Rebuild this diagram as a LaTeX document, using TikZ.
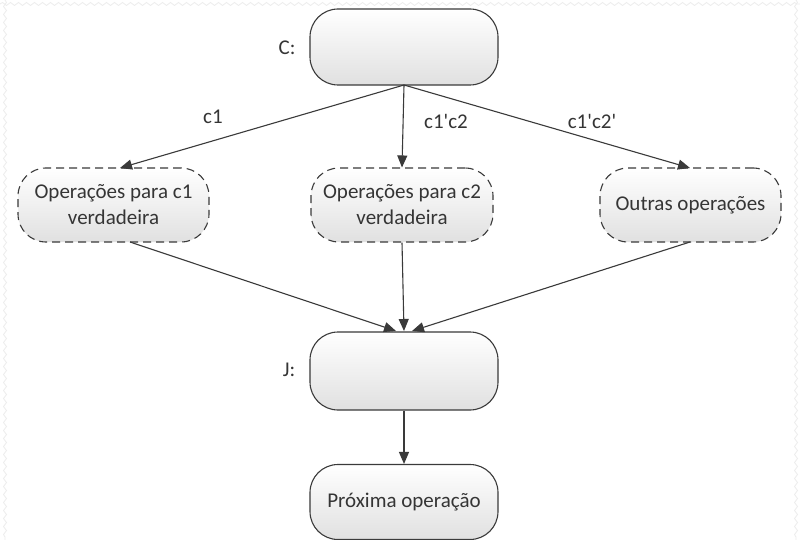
\documentclass[tikz,border=0pt]{standalone}
\usepackage{fontspec}
\setmainfont{Carlito}
\usetikzlibrary{arrows.meta,decorations.pathmorphing}
\definecolor{lc}{HTML}{3A3A3A}
\definecolor{tc}{HTML}{353535}
\begin{document}
\begin{tikzpicture}[x=1pt,y=-1pt,
  base/.style={rounded corners=28pt, draw=lc, line width=1.1pt,
    top color=white, bottom color=black!12, minimum height=76pt,
    align=center, text=tc, font=\fontsize{21}{26}\selectfont, inner sep=2pt},
  solidbox/.style={base, minimum width=188pt},
  dashbox/.style={base, dash pattern=on 8pt off 5pt, minimum height=74pt},
  conn/.style={draw=lc, line width=1.1pt, -{Triangle[length=12pt,width=10pt]}},
  lbl/.style={text=tc, font=\fontsize{21}{26}\selectfont},
  wave/.style={draw=black!7, line width=0.8pt, decorate,
    decoration={snake, amplitude=1.5pt, segment length=8pt}}]
\useasboundingbox (0,0) rectangle (800,540);
\fill[white] (0,0) rectangle (800,540);
\draw[wave] (0,4) -- (800,4);
\draw[wave] (5,0) -- (5,540);
\draw[wave] (796,0) -- (796,540);

\node[solidbox] (C) at (404,47) {};
\node[lbl] (Cl) at (287,48) {C:};
\node[dashbox, minimum width=191pt] (A) at (113.5,205) {Operações para c1\\verdadeira};
\node[dashbox, minimum width=182pt] (B) at (402,205) {Operações para c2\\verdadeira};
\node[dashbox, minimum width=181pt] (D) at (690.5,205) {Outras operações};
\node[solidbox, minimum height=78pt] (J) at (404,371) {};
\node[lbl] (Jl) at (289,370) {J:};
\node[solidbox, minimum height=75pt] (P) at (404,502) {Próxima operação};

\coordinate (Cb) at (404,85);
\coordinate (At) at (120,168);
\coordinate (Dt) at (690,168);
\coordinate (Ab) at (130,242);
\coordinate (Db) at (690,242);
\coordinate (Jt1) at (396,331);
\coordinate (Jt2) at (404,331);
\coordinate (Jt3) at (412,331);

\draw[conn] (Cb) -- (At);
\draw[conn] (Cb) -- (B.north);
\draw[conn] (Cb) -- (Dt);
\draw[conn] (Ab) -- (Jt1);
\draw[conn] (B.south) -- (Jt2);
\draw[conn] (Db) -- (Jt3);
\draw[conn] (J.south) -- (P.north);

\node[lbl] (l1) at (213,117) {c1};
\node[lbl] (l2) at (446,121) {c1\textquotesingle c2};
\node[lbl] (l3) at (592,121) {c1\textquotesingle c2\textquotesingle};
\end{tikzpicture}
\end{document}
